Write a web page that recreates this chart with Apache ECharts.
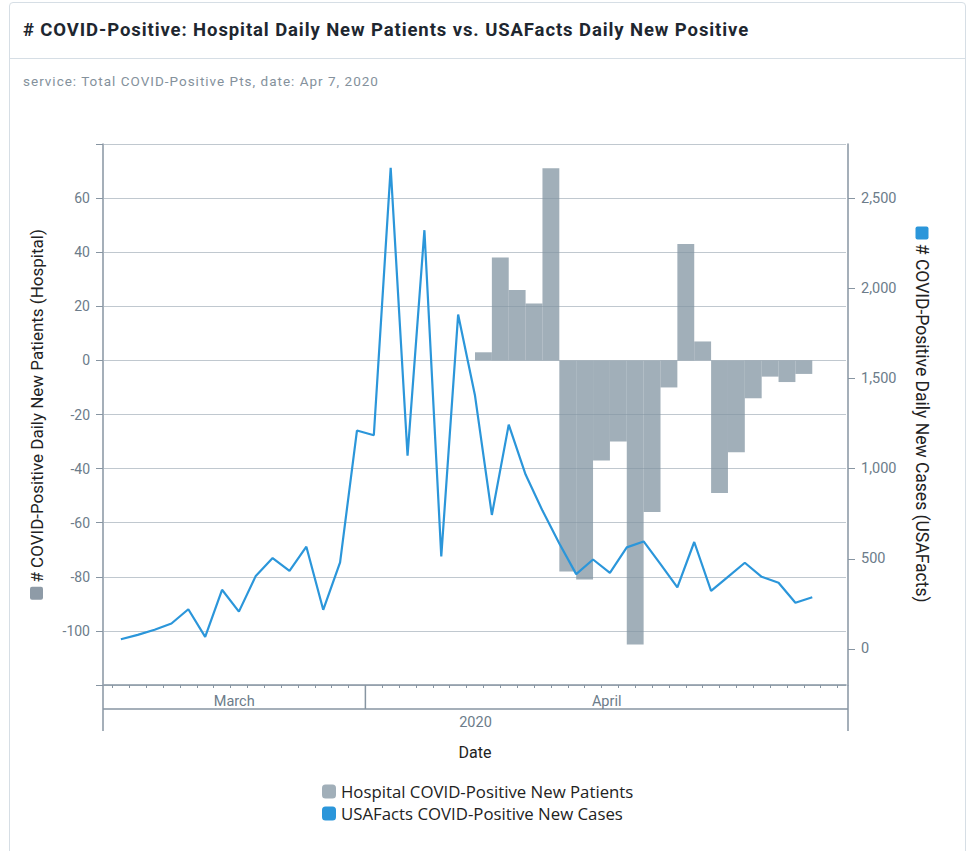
<!DOCTYPE html>
<html>
<head>
<meta charset="utf-8">
<script src="https://cdn.jsdelivr.net/npm/echarts@6/dist/echarts.min.js"></script>
<style>
  html, body { margin: 0; padding: 0; background: #fff; }
  body { width: 975px; height: 851px; position: relative; overflow: hidden; font-family: Roboto, "Noto Sans", sans-serif; }
  #card { position: absolute; left: 9px; top: 2px; width: 957px; height: 900px; border: 1px solid #d6dee5; border-radius: 4px; box-sizing: border-box; }
  #head { position: absolute; left: 0; top: 0; right: 0; height: 55px; border-bottom: 1px solid #d6dee5; }
  #title { position: absolute; left: 13px; top: 0; line-height: 54px; font-size: 18.5px; letter-spacing: 0.9px; font-weight: 700; color: #1e2730; white-space: nowrap; }
  #sub { position: absolute; left: 13px; top: 69px; line-height: 18px; font-size: 13.5px; letter-spacing: 1px; color: #84919c; white-space: nowrap; }
  #chart { position: absolute; left: 0; top: 0; width: 975px; height: 851px; }
</style>
</head>
<body>
<div id="card">
  <div id="head"><div id="title"># COVID-Positive: Hospital Daily New Patients vs. USAFacts Daily New Positive</div></div>
  <div id="sub">service: Total COVID-Positive Pts, date: Apr 7, 2020</div>
</div>
<div id="chart"></div>
<script>
// ---------- data ----------
const dates = [
  '2020-03-16','2020-03-17','2020-03-18','2020-03-19','2020-03-20','2020-03-21','2020-03-22','2020-03-23',
  '2020-03-24','2020-03-25','2020-03-26','2020-03-27','2020-03-28','2020-03-29','2020-03-30','2020-03-31',
  '2020-04-01','2020-04-02','2020-04-03','2020-04-04','2020-04-05','2020-04-06','2020-04-07','2020-04-08',
  '2020-04-09','2020-04-10','2020-04-11','2020-04-12','2020-04-13','2020-04-14','2020-04-15','2020-04-16',
  '2020-04-17','2020-04-18','2020-04-19','2020-04-20','2020-04-21','2020-04-22','2020-04-23','2020-04-24',
  '2020-04-25','2020-04-26','2020-04-27','2020-04-28','2020-04-29'
];
// bar days: each bar spans one full day starting at its date
const barDays = dates.slice(0, 44);
const hospitalNew = [
  null, null, null, null, null, null, null, null,
  null, null, null, null, null, null, null, null,
  null, null, null, null, null, null, 3, 38,
  26, 21, 71, -78, -81, -37, -30, -105,
  -56, -10, 43, 7, -49, -34, -14, -6,
  -8, -5, null, null
];
const usafactsNew = [
  null, 54, 78, 106, 141, 220, 67, 328,
  207, 405, 504, 433, 567, 217, 480, 1211,
  1185, 2668, 1072, 2322, 513, 1854, 1405, 743,
  1244, 967, 767, 585, 415, 496, 422, 563,
  596, 470, 341, 593, 322, 400, 478, 400,
  367, 256, 287, null, null
];
const leftTicks = [-120, 80];        // axis range (labels hidden at the ends)
const rightTickValues = [0, 500, 1000, 1500, 2000, 2500];
const monthNames = ['January','February','March','April','May','June','July','August','September','October','November','December'];
const seriesNames = ['Hospital COVID-Positive New Patients', 'USAFacts COVID-Positive New Cases'];
const leftName = '# COVID-Positive Daily New Patients (Hospital)';
const rightName = '# COVID-Positive Daily New Cases (USAFacts)';

// ---------- style ----------
const FONT = 'Roboto, "Noto Sans", sans-serif';
const AXIS_COLOR = '#8795a2';
const LABEL_COLOR = '#6c7c8a';
const GRID_COLOR = '#c0c8cf';
const BAR_COLOR = '#8194a2';
const LINE_COLOR = '#2b96da';
const LEGEND_GRAY = '#8e9ba7';

const chart = echarts.init(document.getElementById('chart'), null, { renderer: 'svg' });

const option = {
  animation: false,
  textStyle: { fontFamily: FONT },
  grid: { left: 104, top: 144, width: 742, height: 541, containLabel: false },
  legend: {
    orient: 'vertical', left: 322, top: 783, itemWidth: 14, itemHeight: 14, itemGap: 5, padding: 0,
    icon: 'roundRect',
    textStyle: { fontSize: 16.8, color: '#222', fontFamily: '"Open Sans", Roboto, sans-serif' },
    data: seriesNames
  },
  xAxis: [
    {
      type: 'category', data: barDays, boundaryGap: true, position: 'bottom',
      name: 'Date', nameLocation: 'middle', nameGap: 59,
      nameTextStyle: { fontSize: 16, color: '#222', fontFamily: FONT },
      axisLine: { show: true, onZero: false, lineStyle: { color: AXIS_COLOR, width: 1.5 } },
      axisTick: { show: true, alignWithLabel: true, interval: 0, length: 3, lineStyle: { color: AXIS_COLOR } },
      axisLabel: { show: false },
      splitLine: { show: false }
    },
    {
      type: 'category', data: dates, boundaryGap: false, show: false,
      axisLine: { onZero: false }
    }
  ],
  yAxis: [
    {
      type: 'value', min: leftTicks[0], max: leftTicks[1], interval: 20, position: 'left', offset: 1,
      name: '{sq|} ' + leftName, nameLocation: 'middle', nameGap: 58,
      nameTextStyle: {
        fontSize: 17, color: '#222', fontFamily: FONT,
        rich: { sq: { width: 13, height: 13, backgroundColor: LEGEND_GRAY, borderRadius: 2 } }
      },
      axisLine: { show: true, lineStyle: { color: AXIS_COLOR, width: 1.5 } },
      axisTick: { show: true, length: 7, lineStyle: { color: AXIS_COLOR } },
      axisLabel: {
        margin: 13, fontSize: 14, color: LABEL_COLOR, fontFamily: FONT,
        formatter: v => (v === leftTicks[0] || v === leftTicks[1]) ? '' : String(v)
      },
      splitLine: { show: true, lineStyle: { color: GRID_COLOR, width: 1 } }
    },
    {
      type: 'value', min: -200, max: 2800, position: 'right', offset: 2,
      name: '{sq|} ' + rightName, nameLocation: 'middle', nameGap: 65, nameRotate: -90,
      nameTextStyle: {
        fontSize: 17.5, color: '#222', fontFamily: FONT,
        rich: { sq: { width: 13, height: 13, backgroundColor: LINE_COLOR, borderRadius: 2 } }
      },
      axisLine: { show: true, lineStyle: { color: AXIS_COLOR, width: 1.5 } },
      axisTick: { show: true, length: 7, customValues: rightTickValues, lineStyle: { color: AXIS_COLOR } },
      axisLabel: {
        margin: 13, fontSize: 14.5, color: LABEL_COLOR, fontFamily: FONT, customValues: rightTickValues,
        formatter: v => Number(v).toLocaleString('en-US')
      },
      splitLine: { show: false }
    }
  ],
  series: [
    {
      name: seriesNames[0], type: 'bar', xAxisIndex: 0, yAxisIndex: 0,
      data: hospitalNew, barCategoryGap: '0%', barGap: '0%',
      itemStyle: { color: BAR_COLOR, opacity: 0.75 }
    },
    {
      name: seriesNames[1], type: 'line', xAxisIndex: 1, yAxisIndex: 1,
      data: usafactsNew, symbol: 'none', connectNulls: false,
      lineStyle: { color: LINE_COLOR, width: 2.2 }, itemStyle: { color: LINE_COLOR }, z: 5
    }
  ]
};
chart.setOption(option);

// ---------- hierarchical date axis (month row + year row), positioned via the chart's own scales ----------
function px(i) { return chart.convertToPixel({ xAxisIndex: 1 }, dates[i]); }
const axisY = chart.convertToPixel({ yAxisIndex: 0 }, leftTicks[0]);
const rowLine = axisY + 24, rowBottom = axisY + 46;
const xLeft = px(0) - 1, xRight = px(dates.length - 1) + 2;
const els = [];
const lineStyle = { stroke: AXIS_COLOR, lineWidth: 1.5 };
els.push({ type: 'line', shape: { x1: xLeft, y1: axisY, x2: xLeft, y2: rowBottom }, style: lineStyle, silent: true });
els.push({ type: 'line', shape: { x1: xRight, y1: axisY, x2: xRight, y2: rowBottom }, style: lineStyle, silent: true });
els.push({ type: 'line', shape: { x1: xLeft, y1: rowLine, x2: xRight, y2: rowLine }, style: lineStyle, silent: true });
// month segments
let segStart = xLeft, curMonth = new Date(dates[0] + 'T00:00:00').getMonth();
const segs = [];
for (let i = 1; i < dates.length; i++) {
  const m = new Date(dates[i] + 'T00:00:00').getMonth();
  if (m !== curMonth) {
    const b = (px(i - 1) + px(i)) / 2;
    segs.push({ a: segStart, b: b, m: curMonth });
    els.push({ type: 'line', shape: { x1: b, y1: axisY, x2: b, y2: rowLine }, style: lineStyle, silent: true });
    segStart = b; curMonth = m;
  }
}
segs.push({ a: segStart, b: xRight, m: curMonth });
segs.forEach(s => {
  els.push({ type: 'text', silent: true, style: {
    text: monthNames[s.m], x: (s.a + s.b) / 2, y: axisY + 16, align: 'center', verticalAlign: 'middle',
    textAlign: 'center', textVerticalAlign: 'middle', fontSize: 14.5, fontFamily: FONT, fill: LABEL_COLOR } });
});
els.push({ type: 'text', silent: true, style: {
  text: dates[0].slice(0, 4), x: (xLeft + xRight) / 2, y: axisY + 37, align: 'center', verticalAlign: 'middle',
  textAlign: 'center', textVerticalAlign: 'middle', fontSize: 14.5, fontFamily: FONT, fill: LABEL_COLOR } });
chart.setOption({ graphic: { elements: els } });
</script>
</body>
</html>
